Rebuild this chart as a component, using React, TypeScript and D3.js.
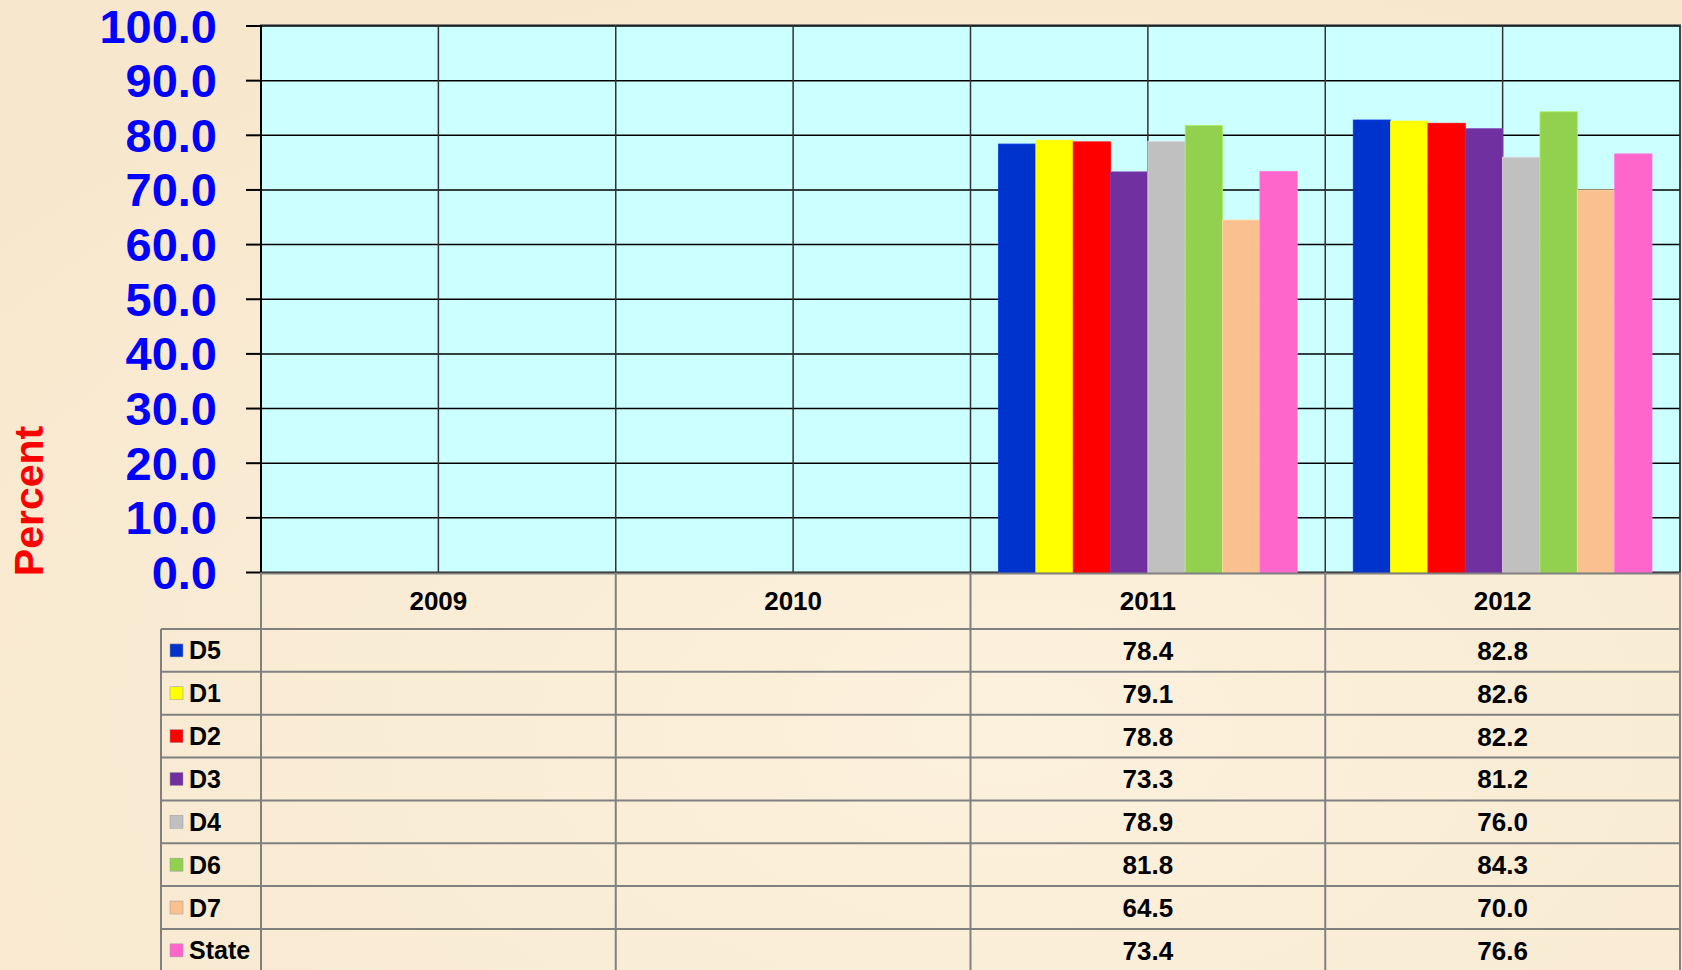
import React from "react";
import * as d3 from "d3";

const years = ["2009", "2010", "2011", "2012"];
const seriesNames = ["D5", "D1", "D2", "D3", "D4", "D6", "D7", "State"];
const seriesColors = ["#0033CC", "#FFFF00", "#FF0000", "#7030A0", "#C0C0C0", "#92D050", "#FAC090", "#FF66CC"];
const values2009: (number | null)[] = [null, null, null, null, null, null, null, null];
const values2010: (number | null)[] = [null, null, null, null, null, null, null, null];
const values2011: (number | null)[] = [78.4, 79.1, 78.8, 73.3, 78.9, 81.8, 64.5, 73.4];
const values2012: (number | null)[] = [82.8, 82.6, 82.2, 81.2, 76.0, 84.3, 70.0, 76.6];
const yTicks = [0, 10, 20, 30, 40, 50, 60, 70, 80, 90, 100];
const yLabel = "Percent";

const valuesByYear = [values2009, values2010, values2011, values2012];

const W = 1682;
const H = 970;
const FONT = "'Liberation Sans', Arial, Helvetica, sans-serif";

export default function App() {
  const plotLeft = 261;
  const plotRight = 1680;
  const plotTop = 26;
  const plotBottom = 572.5;
  const headerBottom = 629;
  const rowH = 42.85;
  const legendLeft = 161;

  const x = d3.scaleBand<string>().domain(years).range([plotLeft, plotRight]).paddingInner(0).paddingOuter(0);
  const bw = x.bandwidth();
  const xs = d3.scaleBand<string>().domain(seriesNames).range([0, bw]).paddingInner(0).paddingOuter(0.75);
  const y = d3.scaleLinear().domain([0, 100]).range([plotBottom, plotTop]);

  const tableBottom = headerBottom + rowH * seriesNames.length;
  const gridLineXs: number[] = [];
  years.forEach((yr) => {
    gridLineXs.push(x(yr)! + bw / 2);
    gridLineXs.push(x(yr)! + bw);
  });

  return (
    <div style={{ position: "fixed", left: 0, top: 0, width: W, height: H, background: "#FAEDD6" }}>
      <svg width={W} height={H} style={{ display: "block" }}>
        <defs>
          <radialGradient id="bgGrad" cx="60%" cy="75%" r="85%">
            <stop offset="0%" stopColor="#FCF1DD" />
            <stop offset="100%" stopColor="#F7E7CC" />
          </radialGradient>
        </defs>
        <rect x={0} y={0} width={W} height={H} fill="url(#bgGrad)" />

        {/* plot area */}
        <rect x={plotLeft} y={plotTop - 1} width={plotRight - plotLeft} height={plotBottom - plotTop + 1} fill="#CCFFFF" stroke="#808080" strokeWidth={2} />

        {/* horizontal gridlines */}
        {yTicks.map((t) => (
          <line key={"h" + t} x1={plotLeft} x2={plotRight} y1={y(t)} y2={y(t)} stroke="#000" strokeWidth={1.5} />
        ))}
        {/* vertical gridlines */}
        {gridLineXs.map((gx, i) => (
          <line key={"v" + i} x1={gx} x2={gx} y1={plotTop - 1} y2={plotBottom} stroke="#333" strokeWidth={1.5} />
        ))}

        {/* bars */}
        {years.map((yr, yi) =>
          valuesByYear[yi].map((v, si) =>
            v == null ? null : (
              <rect
                key={yr + si}
                x={x(yr)! + xs(seriesNames[si])!}
                y={y(v)}
                width={xs.bandwidth()}
                height={plotBottom - y(v)}
                fill={seriesColors[si]}
                stroke={d3.color(seriesColors[si])!.brighter(0.4).toString()}
                strokeWidth={0.8}
              />
            )
          )
        )}

        {/* y axis */}
        <line x1={plotLeft} x2={plotLeft} y1={plotTop - 1} y2={plotBottom} stroke="#000" strokeWidth={2} />
        {yTicks.map((t) => (
          <g key={"t" + t}>
            <line x1={plotLeft - 15} x2={plotLeft} y1={y(t)} y2={y(t)} stroke="#000" strokeWidth={2} />
            <text
              x={217}
              y={y(t)}
              textAnchor="end"
              dominantBaseline="central"
              fontFamily={FONT}
              fontWeight="bold"
              fontSize={47}
              fill="#0000FF"
            >
              {t.toFixed(1)}
            </text>
          </g>
        ))}
        <text
          transform={`translate(43, 501) rotate(-90)`}
          textAnchor="middle"
          fontFamily={FONT}
          fontWeight="bold"
          fontSize={41}
          fill="#FF0000"
        >
          {yLabel}
        </text>

        {/* data table */}
        <g stroke="#808080" strokeWidth={2}>
          <line x1={plotLeft} x2={plotRight} y1={plotBottom + 1} y2={plotBottom + 1} />
          {seriesNames.map((s, i) => (
            <line key={"r" + s} x1={legendLeft} x2={plotRight} y1={headerBottom + rowH * i} y2={headerBottom + rowH * i} />
          ))}
          <line x1={legendLeft} x2={plotRight} y1={tableBottom} y2={tableBottom} />
          <line x1={legendLeft} x2={legendLeft} y1={headerBottom} y2={tableBottom} />
          {years.map((yr) => (
            <line key={"c" + yr} x1={x(yr)!} x2={x(yr)!} y1={plotBottom} y2={tableBottom} />
          ))}
          <line x1={plotRight} x2={plotRight} y1={plotBottom} y2={tableBottom} />
        </g>

        {years.map((yr) => (
          <text
            key={"hd" + yr}
            x={x(yr)! + bw / 2}
            y={(plotBottom + headerBottom) / 2}
            textAnchor="middle"
            dominantBaseline="central"
            fontFamily={FONT}
            fontWeight="bold"
            fontSize={26}
            fill="#000"
          >
            {yr}
          </text>
        ))}

        {seriesNames.map((s, si) => {
          const cy = headerBottom + rowH * si + rowH / 2;
          return (
            <g key={"row" + s}>
              <rect x={170} y={cy - 6.5} width={13} height={13} fill={seriesColors[si]} stroke="#999" strokeWidth={0.5} />
              <text x={189} y={cy} dominantBaseline="central" fontFamily={FONT} fontWeight="bold" fontSize={25} fill="#000">
                {s}
              </text>
              {years.map((yr, yi) => {
                const v = valuesByYear[yi][si];
                return v == null ? null : (
                  <text
                    key={yr}
                    x={x(yr)! + bw / 2}
                    y={cy + 0.5}
                    textAnchor="middle"
                    dominantBaseline="central"
                    fontFamily={FONT}
                    fontWeight="bold"
                    fontSize={26}
                    fill="#000"
                  >
                    {v.toFixed(1)}
                  </text>
                );
              })}
            </g>
          );
        })}
      </svg>
    </div>
  );
}
